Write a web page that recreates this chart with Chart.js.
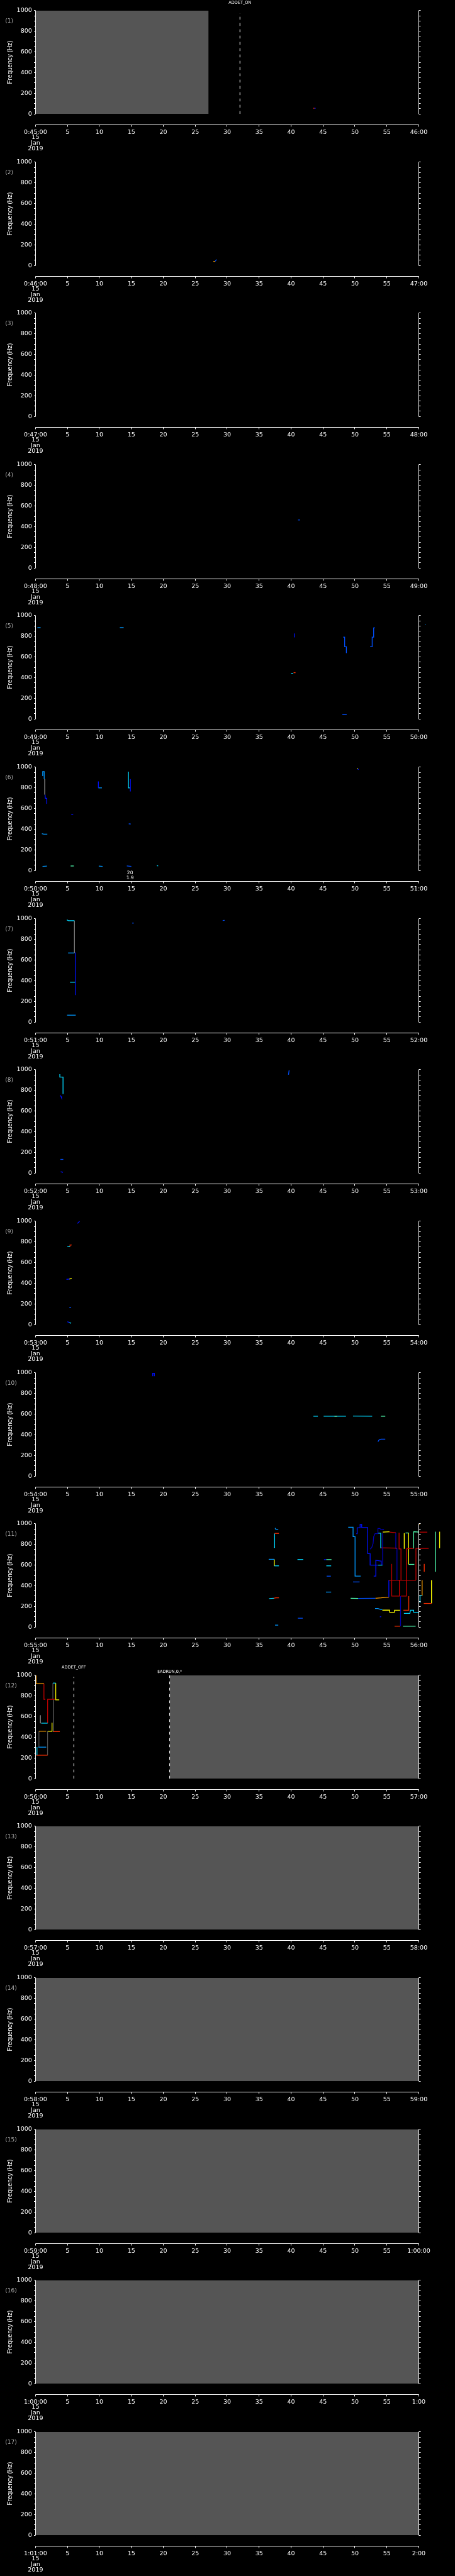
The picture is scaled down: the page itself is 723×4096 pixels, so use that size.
<!DOCTYPE html>
<html>
<head>
<meta charset="utf-8">
<script src="https://cdn.jsdelivr.net/npm/chart.js@4.4.1/dist/chart.umd.min.js"></script>
<style>
  html, body { margin: 0; padding: 0; background: #000; }
  #wrap { position: relative; width: 723px; height: 4096px; overflow: hidden; background: #000; }
  #wrap canvas { position: absolute; left: 0; }
</style>
</head>
<body>
<div id="wrap"></div>
<script>
// ---- axis labels ----
const startLabels = ['0:45:00', '0:46:00', '0:47:00', '0:48:00', '0:49:00', '0:50:00', '0:51:00', '0:52:00',
  '0:53:00', '0:54:00', '0:55:00', '0:56:00', '0:57:00', '0:58:00', '0:59:00', '1:00:00', '1:01:00'];
const endLabels = ['46:00', '47:00', '48:00', '49:00', '50:00', '51:00', '52:00', '53:00',
  '54:00', '55:00', '56:00', '57:00', '58:00', '59:00', '1:00:00', '1:00', '2:00'];
const dateLines = ['15', 'Jan', '2019'];
const xTicks = [0, 5, 10, 15, 20, 25, 30, 35, 40, 45, 50, 55, 60];
const yMinorTicks = [0, 50, 100, 150, 200, 250, 300, 350, 400, 450, 500, 550, 600, 650, 700, 750, 800, 850, 900, 950, 1000];

// ---- no-data (gray) intervals, seconds, per panel ----
const noDataStart = [0, null, null, null, null, null, null, null, null, null, null, 21, 0, 0, 0, 0, 0];
const noDataEnd = [27.1, null, null, null, null, null, null, null, null, null, null, 60, 60, 60, 60, 60, 60];

// ---- event markers ----
const eventPanel = [0, 11, 11];
const eventTime = [32, 6, 21];
const eventTop = [975, 985, 1000];
const eventText = ['ADDET_ON', 'ADDET_OFF', '$ADRUN,0,*'];

// annotation under panel 6
const notePanel = 5;
const noteTime = 14.8;
const noteLines = ['20', '1.9'];

// ---- tracked lines: [level, [[sec, Hz], ...]] ----
const levelColors = ['#0000b4', '#0010ff', '#0050ff', '#0098ff', '#00d8ff', '#50ffb0',
  '#ffff00', '#ffa000', '#ff3000', '#c00000', '#808080'];

const p01 = [
  [8, [[43.5, 55], [43.65, 55]]],
  [1, [[43.65, 55], [43.85, 55]]]
];
const p02 = [
  [7, [[27.85, 40], [28.1, 40]]],
  [2, [[28.1, 40], [28.35, 58]]]
];
const p03 = [];
const p04 = [
  [2, [[41.1, 465], [41.4, 465]]]
];
const p05 = [
  [3, [[0.3, 884], [0.8, 884]]],
  [3, [[13.2, 884], [13.8, 884]]],
  [1, [[40.55, 828], [40.55, 789]]],
  [4, [[40.0, 440], [40.35, 440]]],
  [8, [[40.4, 448], [40.7, 448]]],
  [2, [[48.16, 792], [48.39, 792], [48.39, 699], [48.66, 699], [48.66, 638]]],
  [2, [[48.03, 42], [48.71, 42]]],
  [2, [[52.38, 699], [52.7, 699], [52.7, 792], [52.93, 792], [52.93, 881], [53.15, 881]]],
  [3, [[61.0, 914], [61.09, 914], [61.09, 953], [61.32, 953], [61.32, 881], [61.45, 727], [61.54, 699], [61.72, 699], [61.77, 638]]]
];
const p06 = [
  [3, [[1.13, 914], [1.13, 957], [1.36, 957], [1.36, 885]]],
  [10, [[1.36, 885], [1.45, 885], [1.45, 735]]],
  [1, [[1.5, 735], [1.54, 699], [1.77, 699], [1.77, 645]]],
  [3, [[1.0, 357], [1.3, 352], [1.85, 352]]],
  [1, [[5.6, 544], [5.9, 544]]],
  [1, [[9.84, 862], [9.84, 800]]],
  [3, [[9.84, 800], [10.4, 800]]],
  [4, [[14.55, 957], [14.55, 800], [14.75, 800]]],
  [1, [[14.85, 885], [14.85, 765]]],
  [2, [[14.6, 453], [14.9, 450]]],
  [3, [[1.1, 40], [1.8, 43]]],
  [5, [[5.5, 44], [6.0, 44]]],
  [3, [[9.9, 43], [10.5, 40]]],
  [2, [[14.3, 45], [15.0, 40]]],
  [4, [[19.0, 48], [19.2, 45]]],
  [6, [[50.35, 990], [50.45, 985]]],
  [1, [[50.45, 985], [50.55, 975]]]
];
const p07 = [
  [4, [[4.9, 990], [5.2, 981], [6.1, 981]]],
  [10, [[6.1, 981], [6.1, 670]]],
  [3, [[5.1, 669], [6.1, 669]]],
  [1, [[6.3, 674], [6.3, 261]]],
  [4, [[5.4, 386], [6.2, 386]]],
  [3, [[4.94, 67], [6.3, 67]]],
  [2, [[15.15, 958], [15.37, 958]]],
  [2, [[29.3, 983], [29.6, 985]]]
];
const p08 = [
  [4, [[3.81, 957], [3.81, 929], [4.31, 929], [4.31, 765]]],
  [1, [[3.85, 752], [4.0, 740], [4.08, 727]]],
  [2, [[3.9, 132], [4.35, 132]]],
  [1, [[3.95, 12], [4.3, 7]]],
  [2, [[39.6, 951], [39.7, 995]]]
];
const p09 = [
  [1, [[6.58, 979], [6.9, 1000]]],
  [4, [[4.99, 754], [5.4, 754]]],
  [8, [[5.4, 754], [5.4, 770], [5.67, 770]]],
  [1, [[4.85, 438], [5.3, 441]]],
  [6, [[5.3, 441], [5.67, 446]]],
  [2, [[5.3, 167], [5.58, 167]]],
  [1, [[5.0, 28], [5.3, 20]]],
  [4, [[5.3, 20], [5.58, 13]]]
];
const p10 = [
  [1, [[18.35, 967], [18.35, 996], [18.6, 996], [18.6, 967]]],
  [4, [[43.5, 580], [44.2, 580]]],
  [4, [[45.1, 580], [48.6, 580]]],
  [6, [[46.8, 580], [47.2, 580]]],
  [4, [[49.7, 582], [52.7, 580]]],
  [5, [[54.06, 580], [54.75, 580]]],
  [2, [[53.6, 334], [53.8, 352], [54.1, 358], [54.75, 358]]]
];
const p11 = [
  [3, [[37.5, 959], [37.6, 947], [38.0, 947]]],
  [8, [[37.43, 907], [38.1, 907]]],
  [4, [[37.43, 907], [37.43, 771], [37.33, 771]]],
  [3, [[36.5, 656], [37.38, 656]]],
  [6, [[37.38, 656], [37.38, 593]]],
  [4, [[37.38, 593], [38.1, 593]]],
  [4, [[36.57, 276], [37.3, 279]]],
  [8, [[37.3, 279], [37.6, 283], [38.1, 283]]],
  [3, [[37.5, 19], [38.0, 19]]],
  [4, [[41.0, 654], [41.91, 654]]],
  [2, [[41.07, 86], [41.83, 86]]],
  [1, [[45.16, 653], [45.5, 653]]],
  [5, [[45.5, 653], [46.33, 653]]],
  [4, [[45.52, 593], [46.28, 593]]],
  [2, [[45.57, 493], [46.23, 493]]],
  [3, [[45.47, 339], [46.28, 339]]],
  [3, [[48.95, 966], [49.71, 966], [49.71, 876], [50.02, 876], [50.02, 494], [50.91, 494]]],
  [1, [[50.22, 904], [50.35, 904], [50.35, 961], [50.81, 961], [50.81, 994], [51.06, 994], [51.06, 964], [52.0, 964], [52.0, 711], [52.38, 711], [52.38, 600], [53.65, 600]]],
  [4, [[53.65, 600], [54.3, 600]]],
  [1, [[52.94, 494], [53.27, 494], [53.27, 647], [54.0, 640], [54.11, 640], [54.11, 600]]],
  [0, [[52.38, 754], [52.64, 771], [52.84, 809], [52.94, 876], [53.15, 904], [53.6, 904], [53.6, 954], [53.91, 954], [54.0, 947], [54.55, 943]]],
  [4, [[53.65, 909], [54.04, 909], [54.04, 767], [54.11, 767]]],
  [0, [[54.34, 909], [54.34, 600]]],
  [9, [[54.11, 767], [56.58, 764]]],
  [6, [[54.34, 919], [55.4, 923]]],
  [9, [[55.4, 919], [56.4, 914]]],
  [0, [[56.4, 914], [56.4, 761], [56.58, 761], [56.58, 454]]],
  [9, [[56.91, 914], [56.91, 757], [57.21, 757], [57.21, 454]]],
  [9, [[55.31, 454], [59.55, 454]]],
  [1, [[55.31, 454], [55.31, 290]]],
  [9, [[55.76, 611], [55.76, 300], [56.96, 300], [56.96, 454]]],
  [9, [[57.21, 300], [58.05, 300], [58.05, 757]]],
  [0, [[57.14, 300], [57.14, 9]]],
  [9, [[58.05, 759], [59.2, 761]]],
  [9, [[59.55, 454], [59.55, 761], [61.54, 761]]],
  [8, [[58.43, 300], [58.43, 163], [57.59, 163]]],
  [9, [[60.14, 919], [61.33, 919], [61.33, 761]]],
  [8, [[60.85, 611], [60.85, 536], [61.92, 536], [61.92, 761], [62.93, 761], [62.93, 450], [63.82, 450]]],
  [8, [[56.2, 9], [57.09, 9]]],
  [5, [[57.52, 9], [59.5, 9]]],
  [6, [[57.72, 909], [57.72, 757]]],
  [5, [[57.93, 911], [58.41, 911]]],
  [6, [[58.41, 911], [58.41, 607]]],
  [5, [[58.41, 607], [59.3, 607]]],
  [5, [[59.2, 761], [59.2, 923], [60.06, 919]]],
  [7, [[60.06, 997], [60.19, 997], [60.19, 919]]],
  [4, [[60.06, 304], [60.52, 304]]],
  [4, [[60.19, 304], [60.19, 233]]],
  [7, [[60.52, 304], [60.52, 454], [61.61, 454]]],
  [8, [[60.77, 229], [61.99, 229]]],
  [6, [[61.99, 229], [61.99, 454], [62.55, 454], [62.55, 536]]],
  [5, [[62.6, 536], [62.6, 923], [63.26, 923]]],
  [6, [[63.26, 923], [63.26, 764], [63.77, 761]]],
  [5, [[49.33, 279], [50.5, 277]]],
  [2, [[50.5, 277], [53.2, 279]]],
  [7, [[53.2, 279], [54.1, 283], [55.0, 290], [55.31, 290]]],
  [2, [[49.71, 437], [50.73, 437]]],
  [3, [[53.15, 180], [53.6, 180], [54.0, 171], [54.29, 169]]],
  [6, [[54.29, 164], [55.43, 164], [55.43, 143], [56.2, 143], [56.2, 163], [57.09, 163]]],
  [4, [[57.67, 133], [58.6, 133], [58.69, 163], [59.2, 163], [59.2, 143], [60.06, 143]]],
  [1, [[53.91, 100], [54.11, 100]]]
];
const p12 = [
  [7, [[0.09, 1000], [0.09, 920], [1.32, 920]]],
  [9, [[1.32, 920], [1.32, 768], [1.54, 768]]],
  [10, [[0.77, 613], [0.77, 537], [0.91, 537]]],
  [4, [[0.91, 537], [1.9, 537]]],
  [9, [[1.9, 537], [1.9, 768], [3.04, 768]]],
  [10, [[2.72, 768], [2.72, 925]]],
  [4, [[2.72, 925], [3.17, 925]]],
  [6, [[3.17, 925], [3.17, 763], [3.72, 763]]],
  [10, [[2.77, 768], [2.77, 456]]],
  [8, [[2.77, 456], [3.81, 456]]],
  [4, [[0.23, 305], [0.23, 227]]],
  [8, [[0.1, 227], [1.9, 227]]],
  [10, [[1.9, 227], [1.9, 458]]],
  [6, [[1.9, 458], [2.59, 458], [2.59, 541]]],
  [7, [[0.54, 460], [1.68, 460]]],
  [3, [[0.45, 305], [1.68, 305]]],
  [10, [[0.54, 305], [0.54, 460]]]
];
const panelTraces = [p01, p02, p03, p04, p05, p06, p07, p08, p09, p10, p11, p12, [], [], [], [], []];

// ---- layout (window px, reference scaled by 0.705) ----
const W = 723, H = 241;
const PANEL_STEP = 5802 / 17 * 0.705;
const AREA_LEFT = 56.4, AREA_RIGHT_PAD = 57.5, AREA_TOP = 16.9, AREA_BOTTOM = 181.2;
const AXIS_Y = 197.8, TICK = 2.5;
const FONT = 'DejaVu Sans';

const decor = {
  id: 'decor',
  afterDatasetsDraw(chart, args, opts) {
    const { ctx, chartArea: a, scales: { x, y } } = chart;
    const p = opts.panel;
    const snap = v => Math.round(v) + 0.5;
    ctx.save();
    ctx.strokeStyle = '#ffffff';
    ctx.lineWidth = 1;
    ctx.beginPath();
    const L = snap(a.left - 0.5), R = snap(a.right - 0.5);
    ctx.moveTo(L, a.top); ctx.lineTo(L, a.bottom);
    ctx.moveTo(R, a.top); ctx.lineTo(R, a.bottom);
    yMinorTicks.forEach(v => {
      const py = snap(y.getPixelForValue(v) - 0.5);
      ctx.moveTo(L - TICK, py); ctx.lineTo(L, py);
      ctx.moveTo(R, py); ctx.lineTo(R + TICK + 0.5, py);
    });
    const ay = snap(AXIS_Y);
    ctx.moveTo(L, ay); ctx.lineTo(R, ay);
    xTicks.forEach(v => {
      const px = snap(x.getPixelForValue(v) - 0.5);
      ctx.moveTo(px, ay); ctx.lineTo(px, ay + TICK + 0.5);
    });
    ctx.stroke();

    // panel number
    ctx.fillStyle = '#b0b0b0';
    ctx.font = '9px "' + FONT + '"';
    ctx.textAlign = 'left';
    ctx.textBaseline = 'middle';
    ctx.fillText('(' + (p + 1) + ')', 8.3, 33.8);

    // event labels
    ctx.fillStyle = '#ffffff';
    ctx.font = '6.5px "' + FONT + '"';
    ctx.textAlign = 'center';
    eventPanel.forEach((ep, i) => {
      if (ep !== p) return;
      const ty = eventText[i].charAt(0) === '$' ? 11.4 : 4.6;
      ctx.fillText(eventText[i], x.getPixelForValue(eventTime[i]), ty);
    });

    if (p === notePanel) {
      ctx.font = '7.5px "' + FONT + '"';
      const nx = x.getPixelForValue(noteTime);
      ctx.fillText(noteLines[0], nx, 185.0);
      ctx.fillText(noteLines[1], nx, 193.0);
    }
    ctx.restore();
  }
};

const wrap = document.getElementById('wrap');

for (let p = 0; p < 17; p++) {
  const canvas = document.createElement('canvas');
  canvas.width = W;
  canvas.height = H;
  canvas.style.top = Math.round(p * PANEL_STEP) + 'px';
  wrap.appendChild(canvas);

  const datasets = [];
  panelTraces[p].forEach(([lvl, pts]) => {
    datasets.push({
      data: pts.map(([t, f]) => ({ x: t, y: f })),
      borderColor: levelColors[lvl],
      borderWidth: lvl === 10 ? 0.8 : 1.3,
      pointRadius: 0,
      tension: 0,
      fill: false,
      clip: false
    });
  });
  eventPanel.forEach((ep, i) => {
    if (ep !== p) return;
    datasets.push({
      data: [{ x: eventTime[i], y: 0 }, { x: eventTime[i], y: eventTop[i] }],
      borderColor: '#ffffff',
      borderWidth: 1,
      borderDash: [4.5, 5.5],
      pointRadius: 0,
      fill: false
    });
  });
  if (noDataStart[p] !== null) {
    datasets.push({
      data: [{ x: noDataStart[p], y: 1000 }, { x: noDataEnd[p], y: 1000 }],
      borderColor: 'rgba(0,0,0,0)',
      borderWidth: 0,
      backgroundColor: '#555555',
      fill: 'origin',
      pointRadius: 0
    });
  }

  new Chart(canvas, {
    type: 'line',
    data: { datasets },
    options: {
      responsive: false,
      animation: false,
      devicePixelRatio: 1,
      events: [],
      layout: { padding: { left: 0, right: AREA_RIGHT_PAD, top: AREA_TOP, bottom: 0 } },
      plugins: {
        legend: { display: false },
        tooltip: { enabled: false },
        decor: { panel: p }
      },
      scales: {
        x: {
          type: 'linear',
          min: 0,
          max: 60,
          afterFit: s => { s.height = H - AREA_BOTTOM; },
          grid: { display: false, drawTicks: false },
          border: { display: false },
          ticks: {
            stepSize: 5,
            autoSkip: false,
            maxRotation: 0,
            minRotation: 0,
            padding: 24.5,
            color: '#ffffff',
            font: { family: FONT, size: 9.5, lineHeight: 0.92 },
            callback: v => v === 0 ? [startLabels[p]].concat(dateLines) : (v === 60 ? endLabels[p] : String(v))
          }
        },
        y: {
          type: 'linear',
          min: 0,
          max: 1000,
          afterFit: s => { s.width = AREA_LEFT; },
          grid: { display: false, drawTicks: false },
          border: { display: false },
          ticks: {
            stepSize: 200,
            padding: 5.6,
            color: '#ffffff',
            font: { family: FONT, size: 9.5 },
            callback: v => String(v)
          },
          title: {
            display: true,
            text: 'Frequency (Hz)',
            color: '#ffffff',
            font: { family: 'Liberation Sans', size: 10 },
            padding: { top: 10.1, bottom: 0 }
          }
        }
      }
    },
    plugins: [decor]
  });
}
</script>
</body>
</html>
